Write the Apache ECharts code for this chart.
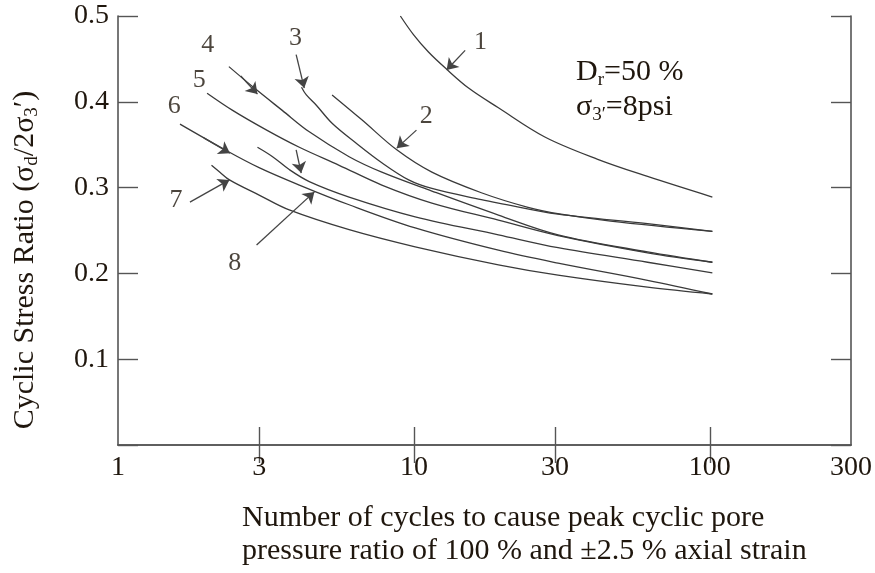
<!DOCTYPE html>
<html>
<head>
<meta charset="utf-8">
<script src="https://cdn.jsdelivr.net/npm/echarts@6/dist/echarts.min.js"></script>
<style>
  html, body { margin: 0; padding: 0; background: #ffffff; }
  #chart { width: 875px; height: 573px; }
</style>
</head>
<body>
<div id="chart"></div>
<script>
// Cyclic stress ratio vs. number of cycles (Dr = 50 %, σ3' = 8 psi)
// Each curve: [number of cycles, cyclic stress ratio]
const curve1 = [[9.0,0.500],[9.98,0.478],[11.2,0.458],[12.8,0.439],[15.3,0.416],[19.3,0.393],[27.7,0.359],[41.8,0.333],[61.6,0.313],[102,0.289]];
const curve2 = [[5.29,0.408],[6.67,0.379],[8.75,0.344],[11.5,0.318],[16.9,0.294],[24.3,0.277],[31.4,0.269],[46.2,0.261],[102,0.249]];
const curve3 = [[4.17,0.417],[4.33,0.408],[4.68,0.396],[5.29,0.375],[6.37,0.352],[7.79,0.329],[9.6,0.309],[11.5,0.299],[16.9,0.286],[19.3,0.282],[30.7,0.269],[61.6,0.258],[102,0.249]];
const curve4 = [[2.37,0.441],[2.89,0.416],[3.59,0.390],[4.43,0.365],[6.04,0.336],[7.79,0.318],[11.5,0.296],[19.3,0.268],[30.7,0.245],[61.6,0.225],[102,0.213]];
const curve5 = [[2.0,0.410],[2.44,0.390],[3.18,0.367],[4.10,0.347],[5.59,0.326],[7.79,0.303],[11.5,0.282],[19.3,0.262],[30.7,0.244],[61.6,0.224],[102,0.213]];
const curve6 = [[1.62,0.374],[2.33,0.343],[3.01,0.323],[4.10,0.303],[6.04,0.280],[10.1,0.253],[19.3,0.227],[30.7,0.212],[61.6,0.192],[102,0.176]];
const curve7 = [[2.07,0.326],[2.21,0.318],[2.38,0.309],[3.01,0.291],[3.79,0.274],[6.04,0.251],[10.1,0.231],[19.3,0.210],[30.7,0.198],[61.6,0.184],[102,0.176]];
const curve8 = [[2.96,0.347],[3.33,0.336],[3.79,0.321],[4.43,0.307],[6.04,0.289],[10.1,0.266],[19.3,0.245],[30.7,0.230],[61.6,0.213],[102,0.2005]];

const curves = [curve1, curve2, curve3, curve4, curve5, curve6, curve7, curve8];

// Curve numbers and where they are written
const curveNames = ['1','2','3','4','5','6','7','8'];
const namePositions = [[16.8,0.470],[11.0,0.383],[3.98,0.474],[2.01,0.466],[1.88,0.425],[1.55,0.395],[1.57,0.285],[2.48,0.212]];

// Pointer arrows: [tail, head]
const pointers = [
  [[14.9,0.460],[12.9,0.437]],
  [[10.2,0.367],[8.75,0.346]],
  [[4.00,0.455],[4.26,0.416]],
  [[2.60,0.430],[2.96,0.409]],
  [[4.00,0.344],[4.16,0.317]],
  [[1.95,0.358],[2.39,0.340]],
  [[1.75,0.283],[2.38,0.309]],
  [[2.94,0.233],[4.61,0.295]]
];

// Axis tick values
const xTickValues = [3, 10, 30, 100];
const xLabelValues = [1, 3, 10, 30, 100, 300];

const serif = '"Liberation Serif", "DejaVu Serif", serif';
const ink = '#1f160d';
const frame = '#555555';
const lineColor = '#3a3a3a';

const chart = echarts.init(document.getElementById('chart'), null, { renderer: 'canvas' });

const xAxisBase = {
  type: 'log',
  logBase: 10,
  min: 1,
  max: 300,
  gridIndex: 0,
  splitLine: { show: false },
  minorTick: { show: false },
  axisLine: { show: true, lineStyle: { color: frame, width: 1.6 } },
  axisTick: { show: true, inside: true, length: 18, customValues: xTickValues, lineStyle: { color: frame, width: 1.4 } }
};
const yAxisBase = {
  type: 'value',
  min: 0,
  max: 0.5,
  interval: 0.1,
  splitLine: { show: false },
  axisLine: { show: true, lineStyle: { color: frame, width: 1.6 } },
  axisTick: { show: true, inside: true, length: 20, lineStyle: { color: frame, width: 1.4 } }
};

const series = curves.map((c, i) => ({
  name: 'Curve ' + curveNames[i],
  type: 'line',
  data: c,
  showSymbol: false,
  smooth: 0.35,
  silent: true,
  lineStyle: { color: lineColor, width: 1.3 },
  z: 3
}));

series.push({
  name: 'numbers',
  type: 'scatter',
  symbolSize: 0,
  silent: true,
  data: namePositions.map((p, i) => ({ value: p, name: curveNames[i] })),
  label: {
    show: true,
    position: 'inside',
    formatter: p => p.name,
    fontFamily: serif,
    fontSize: 26,
    color: ink
  },
  z: 5
});

series.push({
  name: 'pointers',
  type: 'line',
  data: [],
  silent: true,
  markLine: {
    silent: true,
    symbol: ['none', 'arrow'],
    symbolSize: 11,
    label: { show: false },
    lineStyle: { color: '#444', width: 1.3, type: 'solid' },
    itemStyle: { color: '#444' },
    emphasis: { disabled: true },
    data: pointers.map(p => [{ coord: p[0] }, { coord: p[1] }])
  }
});

chart.setOption({
  animation: false,
  backgroundColor: '#ffffff',
  grid: { left: 118, top: 16, width: 739, height: 429 },
  xAxis: [
    Object.assign({}, xAxisBase, {
      position: 'bottom',
      axisLabel: { show: true, customValues: xLabelValues, fontFamily: serif, fontSize: 28, color: ink, margin: 9 }
    }),
    Object.assign({}, xAxisBase, {
      position: 'top',
      axisLabel: { show: false }
    })
  ],
  yAxis: [
    Object.assign({}, yAxisBase, {
      position: 'left',
      axisLabel: {
        show: true, fontFamily: serif, fontSize: 28, color: ink, margin: 9,
        formatter: v => (v === 0 ? '' : v.toFixed(1))
      }
    }),
    Object.assign({}, yAxisBase, {
      position: 'right',
      axisLabel: { show: false }
    })
  ],
  series: series,
  graphic: [
    {
      type: 'text',
      left: 242,
      top: 502,
      style: {
        text: 'Number of cycles to cause peak cyclic pore\npressure ratio of 100 % and ±2.5 % axial strain',
        font: '30px ' + serif,
        fill: ink,
        lineHeight: 33
      }
    },
    {
      type: 'text',
      x: 25,
      y: 260,
      rotation: Math.PI / 2,
      style: {
        text: '{n|Cyclic Stress Ratio (σ}{s|d}{n|/2σ}{s|3}{n|\u2032)}',
        align: 'center',
        verticalAlign: 'middle',
        fill: ink,
        rich: {
          n: { fontFamily: serif, fontSize: 30, lineHeight: 34, fill: ink },
          s: { fontFamily: serif, fontSize: 19, lineHeight: 16, verticalAlign: 'bottom', fill: ink }
        }
      }
    },
    {
      type: 'text',
      left: 576,
      top: 57,
      style: {
        text: '{n|D}{s|r}{n|=50 %}\n{n|σ}{s|3\u2032}{n|=8psi}',
        fill: ink,
        rich: {
          n: { fontFamily: serif, fontSize: 30, lineHeight: 35, fill: ink },
          s: { fontFamily: serif, fontSize: 19, lineHeight: 17, verticalAlign: 'bottom', fill: ink }
        }
      }
    }
  ]
});
</script>
</body>
</html>
